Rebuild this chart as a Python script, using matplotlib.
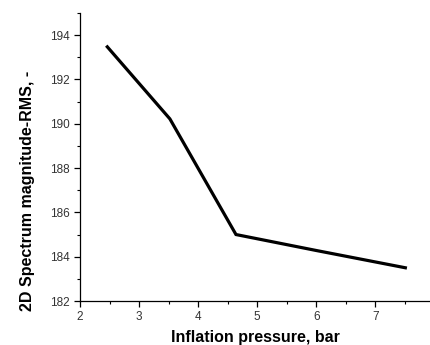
import matplotlib
matplotlib.use('Agg')
import matplotlib.pyplot as plt
from matplotlib.ticker import MultipleLocator

plt.rcParams['font.family'] = ['Liberation Sans', 'DejaVu Sans']

# data
pressure = [2.46, 3.52, 4.64, 6.0, 7.51]
rms = [193.47, 190.22, 185.0, 184.28, 183.5]

fig = plt.figure(figsize=(4.31, 3.45), dpi=100)
ax = fig.add_axes([0.186, 0.1275, 0.812, 0.835])

ax.plot(pressure, rms, color='black', lw=2.3, solid_joinstyle='miter')

ax.set_xlim(2, 7.93)
ax.set_ylim(182, 195)
ax.xaxis.set_major_locator(MultipleLocator(1))
ax.xaxis.set_minor_locator(MultipleLocator(0.5))
ax.yaxis.set_major_locator(MultipleLocator(2))
ax.yaxis.set_minor_locator(MultipleLocator(1))

for s in ['top', 'right']:
    ax.spines[s].set_visible(False)
for s in ['left', 'bottom']:
    ax.spines[s].set_linewidth(0.9)

ax.tick_params(which='major', direction='out', length=4, width=0.9, labelsize=8.5, labelcolor='#333333')
ax.tick_params(which='minor', direction='out', length=2.5, width=0.8)

ax.set_xlabel('Inflation pressure, bar', fontsize=11.5, fontweight='bold', labelpad=5)
ax.set_ylabel('2D Spectrum magnitude-RMS, -', fontsize=11.5, fontweight='bold')
ax.yaxis.set_label_coords(-0.128, 0.382)

fig.savefig('out.png', dpi=100)
